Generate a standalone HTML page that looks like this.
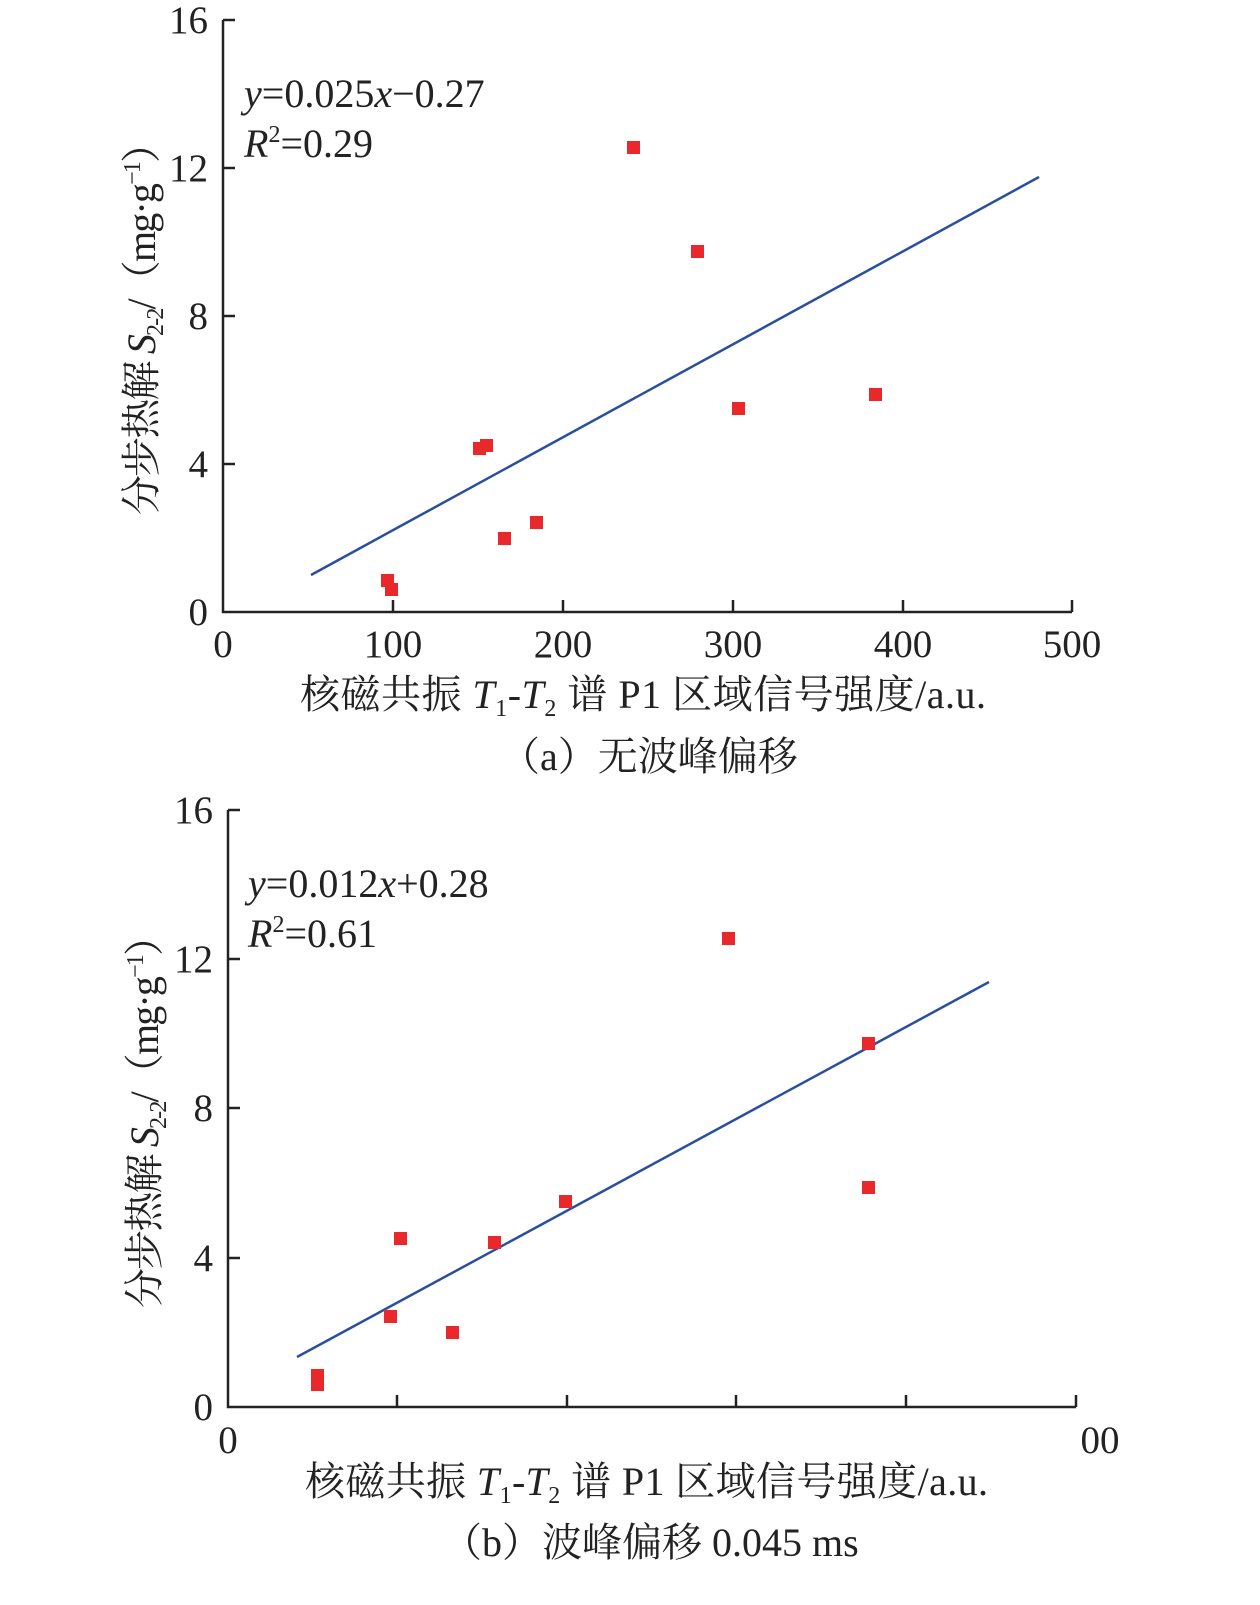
<!DOCTYPE html>
<html><head><meta charset="utf-8"><style>
body{margin:0;background:#fff;}
svg text{font-family:"Liberation Serif","Noto Serif CJK SC",serif;fill:#222;}
</style></head><body>
<svg width="1260" height="1600" xmlns="http://www.w3.org/2000/svg">
<g stroke="#222" stroke-width="2.5" fill="none">
<path d="M223,20 V612 H1072"/>
<path d="M223,20 H235 M223,168 H235 M223,316 H235 M223,464 H235"/>
<path d="M393,612 V600 M563,612 V600 M733,612 V600 M903,612 V600 M1072,612 V600"/>
<path d="M228,810 V1407 H1076"/>
<path d="M228,810 H240 M228,959 H240 M228,1108 H240 M228,1258 H240"/>
<path d="M397,1407 V1395 M567,1407 V1395 M736,1407 V1395 M906,1407 V1395 M1076,1407 V1395"/>
</g>
<g font-size="39" text-anchor="end">
<text x="208" y="33">16</text><text x="208" y="181">12</text><text x="208" y="329">8</text><text x="208" y="477">4</text><text x="208" y="625">0</text>
<text x="213" y="823">16</text><text x="213" y="972">12</text><text x="213" y="1121">8</text><text x="213" y="1271">4</text><text x="213" y="1420">0</text>
</g>
<g font-size="39" text-anchor="middle">
<text x="223" y="657">0</text><text x="393" y="657">100</text><text x="563" y="657">200</text><text x="733" y="657">300</text><text x="903" y="657">400</text><text x="1072" y="657">500</text>
<text x="228" y="1453">0</text><text x="1100" y="1453">00</text>
</g>
<g font-size="40">
<text x="244" y="107"><tspan font-style="italic">y</tspan>=0.025<tspan font-style="italic">x</tspan>−0.27</text>
<text x="244" y="157"><tspan font-style="italic">R</tspan><tspan font-size="24" dy="-15">2</tspan><tspan dy="15">=0.29</tspan></text>
<text x="248" y="897"><tspan font-style="italic">y</tspan>=0.012<tspan font-style="italic">x</tspan>+0.28</text>
<text x="248" y="947"><tspan font-style="italic">R</tspan><tspan font-size="24" dy="-15">2</tspan><tspan dy="15">=0.61</tspan></text>
<text x="300" y="708" textLength="686">核磁共振 <tspan font-style="italic">T</tspan><tspan font-size="24" dy="8">1</tspan><tspan dy="-8">-</tspan><tspan font-style="italic">T</tspan><tspan font-size="24" dy="8">2</tspan><tspan dy="-8"> 谱 P1 区域信号强度/a.u.</tspan></text>
<text x="500" y="770">（a）无波峰偏移</text>
<text x="305" y="1495" textLength="683">核磁共振 <tspan font-style="italic">T</tspan><tspan font-size="24" dy="8">1</tspan><tspan dy="-8">-</tspan><tspan font-style="italic">T</tspan><tspan font-size="24" dy="8">2</tspan><tspan dy="-8"> 谱 P1 区域信号强度/a.u.</tspan></text>
<text x="442" y="1556">（b）波峰偏移 0.045 ms</text>
<text transform="translate(155,515) rotate(-90)" textLength="392">分步热解 <tspan font-style="italic">S</tspan><tspan font-size="24" dy="8">2-2</tspan><tspan dy="-8">/（mg·g</tspan><tspan font-size="24" dy="-15">−1</tspan><tspan dy="15">）</tspan></text>
<text transform="translate(158,1308) rotate(-90)" textLength="392">分步热解 <tspan font-style="italic">S</tspan><tspan font-size="24" dy="8">2-2</tspan><tspan dy="-8">/（mg·g</tspan><tspan font-size="24" dy="-15">−1</tspan><tspan dy="15">）</tspan></text>
</g>
<g stroke="#2b4fa0" stroke-width="2.5">
<line x1="311" y1="575" x2="1039" y2="177"/>
<line x1="297" y1="1357" x2="989" y2="982"/>
</g>
<g fill="#e8282b">
<rect x="381" y="574" width="13" height="13"/><rect x="385" y="583" width="13" height="13"/><rect x="473" y="442" width="13" height="13"/><rect x="480" y="439" width="13" height="13"/><rect x="498" y="532" width="13" height="13"/><rect x="530" y="516" width="13" height="13"/><rect x="627" y="141" width="13" height="13"/><rect x="691" y="245" width="13" height="13"/><rect x="732" y="402" width="13" height="13"/><rect x="869" y="388" width="13" height="13"/>
<rect x="311" y="1369" width="13" height="13"/><rect x="311" y="1378" width="13" height="13"/><rect x="384" y="1310" width="13" height="13"/><rect x="394" y="1232" width="13" height="13"/><rect x="446" y="1326" width="13" height="13"/><rect x="488" y="1236" width="13" height="13"/><rect x="559" y="1195" width="13" height="13"/><rect x="722" y="932" width="13" height="13"/><rect x="862" y="1037" width="13" height="13"/><rect x="862" y="1181" width="13" height="13"/>
</g>
</svg>
</body></html>
